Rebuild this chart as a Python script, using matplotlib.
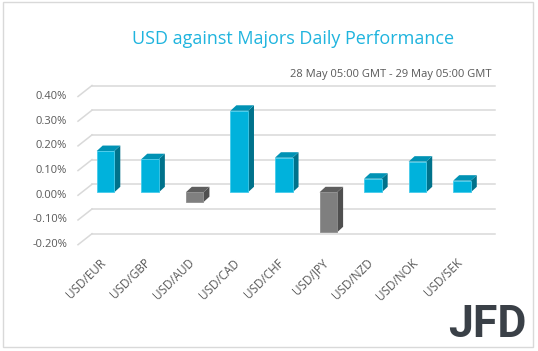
import matplotlib.pyplot as plt
from matplotlib.patches import Polygon, Rectangle

pairs = ["USD/EUR", "USD/GBP", "USD/AUD", "USD/CAD", "USD/CHF",
         "USD/JPY", "USD/NZD", "USD/NOK", "USD/SEK"]
change = [0.167, 0.134, -0.040, 0.330, 0.140, -0.162, 0.055, 0.124, 0.047]
yticks = [-0.20, -0.10, 0.00, 0.10, 0.20, 0.30, 0.40]

title = "USD against Majors Daily Performance"
subtitle = "28 May 05:00 GMT - 29 May 05:00 GMT"

plt.rcParams['font.family'] = ['Open Sans', 'DejaVu Sans']

W, H = 538, 351
fig = plt.figure(figsize=(W / 100, H / 100), dpi=100)
ax = fig.add_axes([0, 0, 1, 1])

# pixel layout of the fake-3D plot: category step and value scale
x0_px, step_px = 105.5, 44.56
y0_px, unit_px = 192.3, 247.0      # px per 1 percent
px = 1 / step_px                    # one pixel in category units
py = 1 / unit_px                    # one pixel in value units
ax.set_xlim((0 - x0_px) * px, (W - x0_px) * px)
ax.set_ylim((y0_px - H) * py, y0_px * py)
ax.axis("off")

grid_c = "#D9D9D9"
# back wall gridlines and left-wall diagonals
xb0, xb1 = (92 - x0_px) * px, (495 - x0_px) * px
xf0 = (78 - x0_px) * px
for v in yticks:
    ax.plot([xb0, xb1], [v + 8 * py, v + 8 * py], color=grid_c, lw=1.1, zorder=1)
    ax.plot([xf0, xb0], [v - 3 * py, v + 8 * py], color=grid_c, lw=1.1, zorder=1)
    ax.text((67 - x0_px) * px, v - 3 * py, f"{v:.2f}%", ha="right", va="center",
            fontsize=8, color="#595959")

# bars
hw, dx, dy = 8.8 * px, 6 * px, 5.5 * py
for i, v in enumerate(change):
    if v >= 0:
        front, side, top, edge = "#00B2DC", "#00728B", "#0092B4", "#45CBEB"
    else:
        front, side, top, edge = "#7F7F7F", "#4F4F4F", "#5E5E5E", "#8F8F8F"
    lo, hi = min(v, 0), max(v, 0)
    ax.add_patch(Polygon([(i + hw, lo), (i + hw, hi), (i + hw + dx, hi + dy),
                          (i + hw + dx, lo + dy)], closed=True, fc=side, ec="none", zorder=3))
    ax.add_patch(Polygon([(i - hw, hi), (i + hw, hi), (i + hw + dx, hi + dy),
                          (i - hw + dx, hi + dy)], closed=True, fc=top, ec="none", zorder=3))
    ax.add_patch(Rectangle((i - hw, lo), 2 * hw, hi - lo, fc=front, ec=edge,
                           lw=0.6, zorder=4))
    ax.text(i - 2 * px, (y0_px - 261) * py, pairs[i], rotation=45,
            rotation_mode="anchor", ha="right", va="center", fontsize=8.5, color="#595959")

fig.text(293 / W, 1 - 39 / H, title, ha="center", va="center",
         fontsize=13, color="#1FB4DE")
fig.text(491 / W, 1 - 74 / H, subtitle, ha="right", va="center",
         fontsize=8, color="#595959")
fig.text(487 / W, 1 - 325 / H, "JFD", ha="center", va="center", fontsize=32,
         fontweight="bold", family="Roboto", color="#3A4047")

fig.add_artist(Rectangle((3 / W, 4 / H), 530 / W, 345 / H, transform=fig.transFigure,
                         fill=False, ec="#D9D9D9", lw=1.0))

fig.savefig("out.png", dpi=100)
